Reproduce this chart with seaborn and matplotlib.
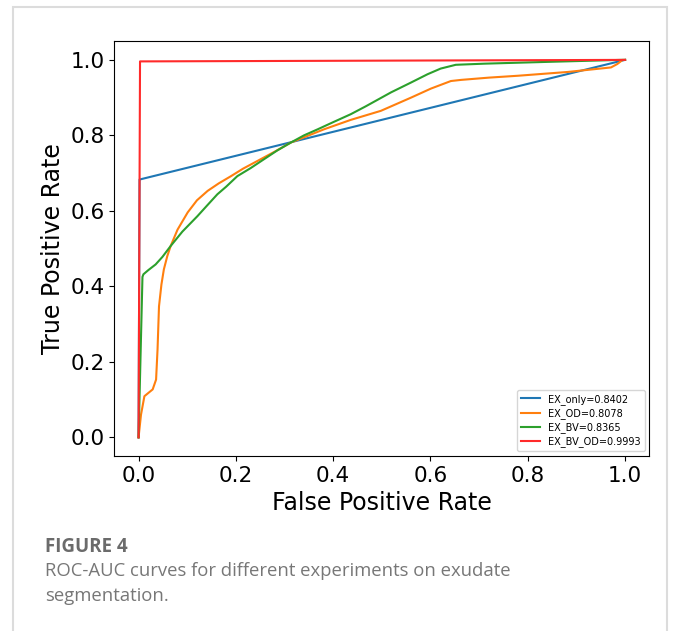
import numpy as np
import pandas as pd
import matplotlib
matplotlib.use("Agg")
import matplotlib.pyplot as plt
import matplotlib.patches as mpatches
import seaborn as sns

# ROC points
only_fpr = [0.0, 0.002, 1.0]
only_tpr = [0.0, 0.683, 1.0]

od_fpr = [0.0, 0.005, 0.012, 0.029, 0.036, 0.039, 0.042, 0.047, 0.052, 0.059, 0.066,
          0.08, 0.101, 0.12, 0.142, 0.165, 0.19, 0.215, 0.244, 0.28, 0.313, 0.381,
          0.436, 0.498, 0.560, 0.601, 0.642, 0.663, 0.720, 0.780, 0.882, 0.971,
          0.984, 0.995, 1.0]
od_tpr = [0.0, 0.06, 0.109, 0.127, 0.153, 0.233, 0.347, 0.405, 0.445, 0.48, 0.507,
          0.55, 0.596, 0.628, 0.653, 0.673, 0.692, 0.712, 0.732, 0.757, 0.781, 0.816,
          0.841, 0.865, 0.900, 0.924, 0.944, 0.947, 0.953, 0.958, 0.968, 0.980,
          0.989, 1.0, 1.0]

bv_fpr = [0.0, 0.008, 0.01, 0.02, 0.035, 0.049, 0.066, 0.09, 0.121, 0.14, 0.162,
          0.18, 0.203, 0.23, 0.258, 0.285, 0.313, 0.34, 0.368, 0.40, 0.436, 0.467,
          0.519, 0.560, 0.594, 0.621, 0.652, 0.711, 0.848, 0.992, 1.0]
bv_tpr = [0.0, 0.425, 0.432, 0.443, 0.458, 0.478, 0.507, 0.545, 0.586, 0.613, 0.644,
          0.664, 0.692, 0.713, 0.737, 0.760, 0.781, 0.800, 0.816, 0.835, 0.856, 0.877,
          0.914, 0.940, 0.962, 0.977, 0.987, 0.990, 0.995, 1.0, 1.0]

bvod_fpr = [0.0, 0.003, 1.0]
bvod_tpr = [0.0, 0.996, 1.0]

labels = ["EX_only=0.8402", "EX_OD=0.8078", "EX_BV=0.8365", "EX_BV_OD=0.9993"]
colors = ["#1f77b4", "#ff7f0e", "#2ca02c", "#ff2a2a"]

frames = []
for lab, f, t in zip(labels, [only_fpr, od_fpr, bv_fpr, bvod_fpr],
                     [only_tpr, od_tpr, bv_tpr, bvod_tpr]):
    frames.append(pd.DataFrame({"fpr": f, "tpr": t, "model": lab}))
df = pd.concat(frames, ignore_index=True)

plt.rcParams['font.family'] = ['DejaVu Sans']

fig = plt.figure(figsize=(6.8, 6.31), dpi=100)
ax = fig.add_axes([0.168, 0.277, 0.787, 0.658])

sns.lineplot(data=df, x="fpr", y="tpr", hue="model", palette=colors,
             sort=False, estimator=None, linewidth=1.5, ax=ax)

ax.set_xlim(-0.05, 1.05)
ax.set_ylim(-0.05, 1.05)
ax.set_xticks([0.0, 0.2, 0.4, 0.6, 0.8, 1.0])
ax.set_yticks([0.0, 0.2, 0.4, 0.6, 0.8, 1.0])
ax.tick_params(labelsize=15.5)
ax.set_xlabel("False Positive Rate", fontsize=17)
ax.set_ylabel("True Positive Rate", fontsize=17)
ax.legend(loc="lower right", fontsize=7, title=None, labelspacing=0.35)

# caption and page frame
fig.patches.append(mpatches.Rectangle((13 / 680, -0.1), 654 / 680, 1.1 - 7 / 631,
                                      transform=fig.transFigure, fill=False,
                                      edgecolor="#dcdcdc", linewidth=1.5))
fig.text(45 / 680, 1 - 547 / 631, "FIGURE 4", fontsize=13.5, color="#6b6b6b",
         fontweight="bold", family="Open Sans", va="center")
fig.text(45 / 680, 1 - 571 / 631, "ROC-AUC curves for different experiments on exudate",
         fontsize=13.3, color="#777777", family="Open Sans", va="center")
fig.text(45 / 680, 1 - 596 / 631, "segmentation.",
         fontsize=13.3, color="#777777", family="Open Sans", va="center")

fig.savefig("out.png", dpi=100)
